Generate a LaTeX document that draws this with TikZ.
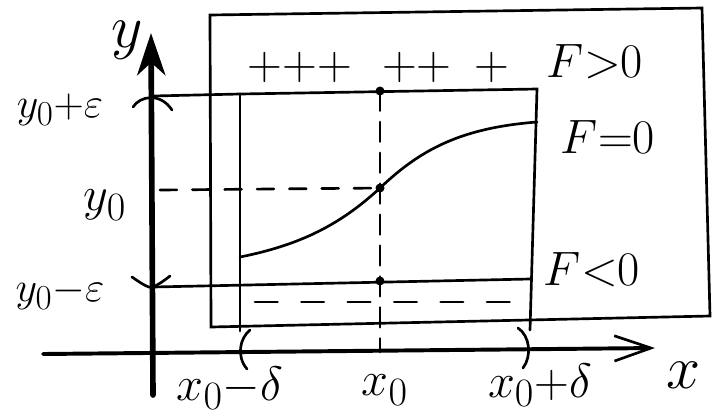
\documentclass[tikz,border=0pt]{standalone}
\usepackage{amsmath,amssymb}
\usetikzlibrary{arrows.meta, positioning}

\tikzset{
    lbl/.style={font=\Huge, scale=1.38, transform shape},
    eplbl/.style={font=\Huge, scale=1.2, transform shape},
    axlbl/.style={font=\Huge, scale=1.75, transform shape}
}

\begin{document}
\begin{tikzpicture}[x=0.025cm, y=-0.025cm, line width=1.9pt, line cap=round]

    \useasboundingbox (0,0) rectangle (715,417);

    % Axes
    \coordinate (O) at (153,352);
    \coordinate (xS) at (43,354);
    \coordinate (xE) at (655,348);
    \coordinate (yS) at (153,395);
    \coordinate (yE) at (151,33);
    \draw[line width=2.8pt, -{Straight Barb[length=26pt, width=18pt, line width=1.9pt]}] (xS) -- (xE);
    \draw[line width=4pt, -{Stealth[length=30pt, width=20pt, inset=9pt]}] (yS) -- (yE);

    % Outer box (region of F)
    \coordinate (bTL) at (210,15);
    \coordinate (bTR) at (702,8);
    \coordinate (bBR) at (710,316);
    \coordinate (bBL) at (211,327);
    \draw (bTL) -- (bTR) -- (bBR) -- (bBL) -- cycle;

    % Inner rectangle: x0 -+ delta, y0 -+ eps
    \coordinate (rTL) at (240,94);
    \coordinate (rTR) at (537,89);
    \coordinate (rBL) at (240,331);
    \coordinate (rBR) at (530,330);
    \coordinate (ePl) at (153,96);
    \coordinate (eMi) at (153,287);
    \coordinate (eMiR) at (530,279);
    \draw (ePl) -- (rTL) -- (rTR) -- (rBR);
    \draw (rTL) -- (rBL);
    \draw (eMi) -- (eMiR);

    % Tick marks
    \draw (133,107) .. controls (140,96) and (160,92) .. (172,110);
    \draw (132,277) .. controls (142,284) and (150,289) .. (153,287)
                    .. controls (158,285) and (165,280) .. (170,276);
    \draw (250,330) .. controls (240,338) and (236,356) .. (247,369);
    \draw (518,328) .. controls (530,336) and (532,356) .. (523,368);

    % Curve F=0
    \coordinate (cA) at (240,257);
    \coordinate (P0) at (380,188);
    \coordinate (cB) at (537,122);
    \draw (cA) .. controls (300,245) and (340,225) .. (P0)
               .. controls (420,150) and (460,128) .. (cB);

    % Dashed helper lines
    \coordinate (Ptop) at (380,91);
    \coordinate (Pbot) at (380,281);
    \coordinate (x0) at (380,352);
    \coordinate (y0) at (160,190);
    \draw[dash pattern=on 12pt off 11pt] (y0) -- (P0);
    \draw[dash pattern=on 14pt off 8pt] (Ptop) -- (x0);
    \draw[dash pattern=on 16pt off 17pt] (255,302) -- (522,302);

    % Points on x = x0
    \fill (Ptop) circle (4.5);
    \fill (P0) circle (4.5);
    \fill (Pbot) circle (4.5);

    % Labels
    \node[axlbl] (lblY) at (127,40) {$y$};
    \node[axlbl] (lblX) at (684,375) {$x$};
    \node[eplbl] (lblYp) at (60,110) {$y_0{+}\varepsilon$};
    \node[lbl] (lblY0) at (105,205) {$y_0$};
    \node[eplbl] (lblYm) at (60,293) {$y_0{-}\varepsilon$};
    \node[lbl] (lblXm) at (230,388) {$x_0{-}\delta$};
    \node[lbl] (lblX0) at (385,390) {$x_0$};
    \node[lbl] (lblXp) at (540,385) {$x_0{+}\delta$};
    \node[lbl] (lblFp) at (595,62) {$F{>}0$};
    \node[lbl] (lblF0) at (608,137) {$F{=}0$};
    \node[lbl] (lblFm) at (592,270) {$F{<}0$};
    \node[lbl] (plA) at (300,67) {${+}{+}{+}$};
    \node[lbl] (plB) at (417,67) {${+}{+}$};
    \node[lbl] (plC) at (492,67) {${+}$};

\end{tikzpicture}
\end{document}
